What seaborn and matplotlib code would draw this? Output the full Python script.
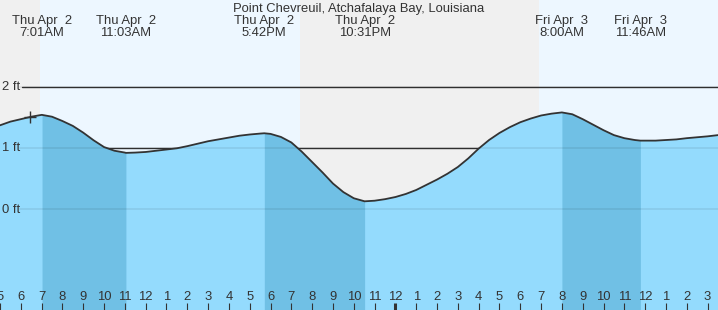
import matplotlib
matplotlib.use("Agg")
import matplotlib.pyplot as plt
import matplotlib.transforms as mtransforms
import numpy as np
import pandas as pd
import seaborn as sns

# ---------------- data ----------------
title = "Point Chevreuil, Atchafalaya Bay, Louisiana"

# hours since Thu Apr 2 00:00, water level in ft
tide_hours = [5, 5.5, 6, 6.5, 7, 7.02, 7.5, 8, 8.5, 9, 9.5, 10, 10.5, 11, 11.05,
              11.5, 12, 12.5, 13, 13.5, 14, 14.5, 15, 15.5, 16, 16.5, 17, 17.5, 17.7,
              18, 18.5, 19, 19.5, 20, 20.5, 21, 21.5, 22, 22.52,
              23, 23.5, 24, 24.5, 25, 25.5, 26, 26.5, 27, 27.5, 28, 28.5, 29, 29.5,
              30, 30.5, 31, 31.5, 32,
              32.5, 33, 33.5, 34, 34.5, 35, 35.5, 35.77,
              36, 36.5, 37, 37.5, 38, 38.5, 39, 39.5]
tide_ft = [1.37, 1.43, 1.47, 1.51, 1.54, 1.54, 1.51, 1.44, 1.36, 1.25, 1.125, 1.015, 0.955, 0.925, 0.92,
           0.925, 0.935, 0.955, 0.975, 0.995, 1.03, 1.07, 1.11, 1.14, 1.17, 1.20, 1.22, 1.235, 1.24,
           1.23, 1.18, 1.09, 0.94, 0.77, 0.60, 0.42, 0.28, 0.18, 0.13,
           0.14, 0.165, 0.20, 0.25, 0.315, 0.40, 0.485, 0.58, 0.69, 0.83, 0.99, 1.13, 1.245, 1.34,
           1.42, 1.48, 1.53, 1.56, 1.58,
           1.55, 1.47, 1.38, 1.29, 1.21, 1.16, 1.13, 1.12,
           1.12, 1.12, 1.13, 1.14, 1.16, 1.175, 1.19, 1.21]

# extremes (hours) and their labels
event_hours = [7.02, 11.05, 17.70, 22.52, 32.00, 35.77]
event_days = ["Thu Apr  2", "Thu Apr  2", "Thu Apr  2", "Thu Apr  2", "Fri Apr  3", "Fri Apr  3"]
event_times = ["7:01AM", "11:03AM", "5:42PM", "10:31PM", "8:00AM", "11:46AM"]

# falling-tide bands (high -> low)
band_starts = [7.02, 17.70, 32.00]
band_ends = [11.05, 22.52, 35.77]

# daylight intervals
day_starts = [6.9, 30.9]
day_ends = [19.42, 39.6]

now_hour = 6.43
now_ft = 1.51

hour_ticks = list(range(5, 40))
hour_labels = ["5", "6", "7", "8", "9", "10", "11", "12", "1", "2", "3", "4", "5", "6",
               "7", "8", "9", "10", "11", "12", "1", "2", "3", "4", "5", "6", "7", "8",
               "9", "10", "11", "12", "1", "2", "3"]
midnight_hour = 24

y_ticks = [0, 1, 2]
y_labels = ["0 ft", "1 ft", "2 ft"]

# ---------------- style ----------------
sns.set_theme(style="white")
plt.rcParams["font.family"] = ["Liberation Sans", "DejaVu Sans"]

NIGHT = "#f0f0f0"
DAY = "#edf7ff"
WATER = "#94dbfd"
WATER_DARK = "#70c0e5"
INK = "#333333"
FS = 9.4
H = 310.0

df = pd.DataFrame({"hour": tide_hours, "ft": tide_ft})

fig = plt.figure(figsize=(7.18, 3.10), dpi=100)
ax = fig.add_axes([0, 0, 1, 1])
ax.set_facecolor(NIGHT)
x0, x1 = 5.0, 39.5
y0, y1 = -1.643, 3.414
ax.set_xlim(x0, x1)
ax.set_ylim(y0, y1)

for s, e in zip(day_starts, day_ends):
    ax.axvspan(s, e, color=DAY, lw=0, zorder=0)

# black reference lines (behind water)
for yv in [1, 2]:
    ax.axhline(yv, xmin=22 / 718, xmax=1, color=INK, lw=1.0, zorder=1)

h = np.array(tide_hours)
v = np.array(tide_ft)
ax.fill_between(h, y0 - 1, v, color=WATER, lw=0, zorder=2)
for s, e in zip(band_starts, band_ends):
    m = (h >= s - 1e-9) & (h <= e + 1e-9)
    ax.fill_between(h, y0 - 1, v, where=m, color=WATER_DARK, lw=0, zorder=3)

# faint grid lines through water
for yv in y_ticks:
    ax.axhline(yv, xmin=20 / 718, xmax=1, color="black", alpha=0.08, lw=1.2, zorder=4)

sns.lineplot(data=df, x="hour", y="ft", ax=ax, color=INK, lw=1.3, zorder=5)
ax.plot([now_hour], [now_ft], marker="+", ms=9, mew=1.0, color=INK, zorder=6)

# y labels
ytr = mtransforms.blended_transform_factory(ax.transAxes, ax.transData)
off = mtransforms.ScaledTranslation(0, -3.5 / 100, fig.dpi_scale_trans)
for yv, lab in zip(y_ticks, y_labels):
    ax.text(0.003, yv, lab, transform=ytr + off, ha="left", va="baseline",
            fontsize=FS, color=INK, zorder=7)

# bottom hour ticks and labels
xtr = mtransforms.blended_transform_factory(ax.transData, ax.transAxes)
for hv, lab in zip(hour_ticks, hour_labels):
    lw = 2.2 if hv == midnight_hour else 0.8
    ax.plot([hv, hv], [0, 7.5 / H], transform=xtr, color=INK, lw=lw, zorder=7,
            solid_capstyle="butt")
    ax.text(hv, 10 / H, lab, transform=xtr, ha="center", va="baseline", fontsize=FS,
            color=INK, zorder=7)

# top labels
for hv, d, t in zip(event_hours, event_days, event_times):
    ax.text(hv, 1 - 24 / H, d, transform=xtr, ha="center", va="baseline", fontsize=FS, color=INK)
    ax.text(hv, 1 - 36 / H, t, transform=xtr, ha="center", va="baseline", fontsize=FS, color=INK)
ax.text(0.5, 1 - 12 / H, title, transform=ax.transAxes, ha="center", va="baseline",
        fontsize=FS, color=INK)

ax.set_xlabel("")
ax.set_ylabel("")
ax.set_xticks([])
ax.set_yticks([])
for sp in ax.spines.values():
    sp.set_visible(False)
if ax.get_legend():
    ax.get_legend().remove()

fig.savefig("out.png", dpi=100)
